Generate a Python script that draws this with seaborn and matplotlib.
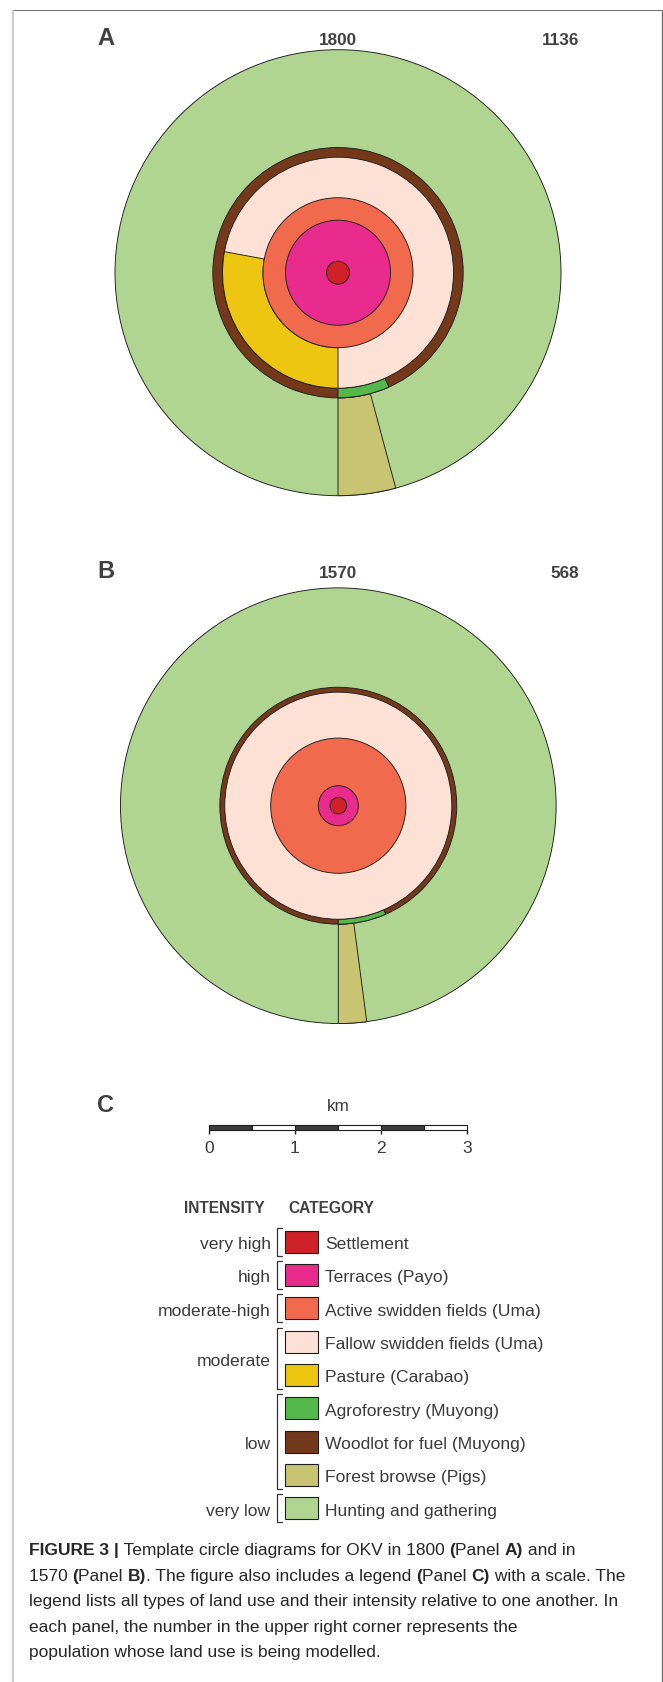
import numpy as np
import matplotlib
matplotlib.use("Agg")
import matplotlib.pyplot as plt
from matplotlib.patches import Wedge
from matplotlib.font_manager import FontProperties
import seaborn as sns

# ---------------- data ----------------
categories = ["Settlement", "Terraces (Payo)", "Active swidden fields (Uma)",
              "Fallow swidden fields (Uma)", "Pasture (Carabao)", "Agroforestry (Muyong)",
              "Woodlot for fuel (Muyong)", "Forest browse (Pigs)", "Hunting and gathering"]
colors = ["#D12128", "#EA2B8E", "#F26A4D", "#FDE1D5", "#ECC610",
          "#55B84A", "#74391B", "#C9C472", "#AFD590"]
intensity_names = ["very high", "high", "moderate-high", "moderate", "low", "very low"]
intensity_rows = [[0], [1], [2], [3, 4], [5, 6, 7], [8]]

panel_labels = ["A", "B"]
years = ["1800", "1570"]
population = ["1136", "568"]
# outer radius of each zone, km
r_settlement = [0.133, 0.096]
r_terraces = [0.609, 0.232]
r_active = [0.870, 0.784]
r_fallow = [1.340, 1.317]
r_woodlot = [1.452, 1.374]
r_hunting = [2.587, 2.527]
# angular share (degrees) of sector land uses, measured from the bottom
pasture_deg = [100.5, 0.0]
agro_deg = [24.0, 23.6]
browse_deg = [15.0, 7.5]

scale_ticks = [0, 1, 2, 3]
scale_seg_start = [0.0, 0.5, 1.0, 1.5, 2.0, 2.5]
scale_seg_len = [0.5] * 6
scale_seg_fill = ["#3d3d3d", "#ffffff", "#3d3d3d", "#ffffff", "#3d3d3d", "#ffffff"]
swatch_len = [1] * len(categories)

caption_lines = [
    [("FIGURE 3 |", True), (" Template circle diagrams for OKV in 1800 ", False), ("(", True),
     ("Panel ", False), ("A)", True), (" and in", False)],
    [("1570 ", False), ("(", True), ("Panel ", False), ("B)", True),
     (". The figure also includes a legend ", False), ("(", True), ("Panel ", False),
     ("C)", True), (" with a scale. The", False)],
    [("legend lists all types of land use and their intensity relative to one another. In", False)],
    [("each panel, the number in the upper right corner represents the", False)],
    [("population whose land use is being modelled.", False)],
]

# ---------------- layout ----------------
W, H = 663, 1683
PX_PER_KM = 86.2
sns.set_theme(style="white")
FAM = ["Liberation Sans", "DejaVu Sans"]
plt.rcParams["font.family"] = FAM

fig = plt.figure(figsize=(W / 100, H / 100), dpi=100)
fig.patch.set_facecolor("white")


def px_axes(x0, y0, x1, y1, z=1):
    return fig.add_axes([x0 / W, 1 - y1 / H, (x1 - x0) / W, (y1 - y0) / H], zorder=z)


bg = px_axes(0, 0, W, H, z=0)
bg.set_xlim(0, W)
bg.set_ylim(H, 0)
bg.axis("off")

# frame
bg.plot([13, 662], [11, 11], color="#6e6e6e", lw=0.75, solid_capstyle="butt")
bg.plot([13, 13], [11, H], color="#bdbdbd", lw=1.1, solid_capstyle="butt")
bg.plot([662, 662], [11, H], color="#707070", lw=1.0, solid_capstyle="butt")

TXT = "#404040"
EDGE = "#1c1c1c"
LW = 0.65

panel_centers = [(338.0, 273.7), (338.3, 806.7)]
label_base = [45.0, 578.3]

for i in range(2):
    cx, cy = panel_centers[i]
    hx, hy = 315, 245
    ax = px_axes(cx - hx, cy - hy, cx + hx, cy + hy, z=2)
    ax.set_xlim(-hx / PX_PER_KM, hx / PX_PER_KM)
    ax.set_ylim(-hy / PX_PER_KM, hy / PX_PER_KM)
    ax.axis("off")
    ax.patch.set_alpha(0)

    def wedge(r, t1, t2, w, c, z):
        ax.add_patch(Wedge((0, 0), r, t1, t2, width=w, facecolor=c,
                           edgecolor=EDGE, linewidth=LW, zorder=z))

    # hunting & gathering
    wedge(r_hunting[i], 0, 360, None, colors[8], 1)
    # forest browse
    wedge(r_hunting[i], 270, 270 + browse_deg[i], r_hunting[i] - r_woodlot[i], colors[7], 2)
    # woodlot ring
    wedge(r_woodlot[i], 0, 360, None, colors[6], 3)
    # agroforestry
    wedge(r_woodlot[i], 270, 270 + agro_deg[i], r_woodlot[i] - r_fallow[i], colors[5], 4)
    # fallow
    wedge(r_fallow[i], 0, 360, None, colors[3], 5)
    # pasture
    if pasture_deg[i] > 0:
        wedge(r_fallow[i], 270 - pasture_deg[i], 270, r_fallow[i] - r_active[i], colors[4], 6)
    wedge(r_active[i], 0, 360, None, colors[2], 7)
    wedge(r_terraces[i], 0, 360, None, colors[1], 8)
    wedge(r_settlement[i], 0, 360, None, colors[0], 9)

    bg.text(106, label_base[i], panel_labels[i], fontsize=17, fontweight="bold",
            color=TXT, ha="center", va="baseline")
    bg.text(cx, label_base[i], years[i], fontsize=12.3, fontweight="bold",
            color=TXT, ha="center", va="baseline")
    bg.text(579, label_base[i], population[i], fontsize=12.3, fontweight="bold",
            color=TXT, ha="right", va="baseline")

# ---------------- panel C: scale bar ----------------
bg.text(106, 1111.7, "C", fontsize=17, fontweight="bold", color=TXT, ha="center", va="baseline")
bg.text(338.3, 1110.7, "km", fontsize=12.3, color="#3a3a3a", ha="center", va="baseline")

sx0, sx1 = 208.7, 208.7 + 3 * PX_PER_KM
sax = px_axes(sx0, 1125.7, sx1, 1131.2, z=2)
bars = sax.bar(scale_seg_start, [1] * len(scale_seg_start), width=scale_seg_len, align="edge",
               color=scale_seg_fill, edgecolor=EDGE, linewidth=0.8)
for b in bars:
    b.set_clip_on(False)
sax.set_xlim(0, 3)
sax.set_ylim(0, 1)
for s in sax.spines.values():
    s.set_visible(False)
sax.patch.set_alpha(0)
sax.set_yticks([])
sax.set_xticks(scale_ticks)
sax.set_xticklabels([str(t) for t in scale_ticks])
sax.tick_params(axis="x", direction="out", length=2.6, width=1.0, color=EDGE,
                pad=4.3, labelsize=12.5, labelcolor="#3a3a3a", bottom=True)

# ---------------- legend ----------------
row0, row_h = 1242.7, 33.33
lx0, lx1 = 285.4, 318.4
n = len(categories)
lax = px_axes(lx0, row0 - 0.5 * row_h, lx1, row0 + (n - 0.5) * row_h, z=2)
sns.barplot(x=swatch_len, y=categories, hue=categories, palette=colors, saturation=1,
            orient="h", width=22 / row_h, edgecolor=EDGE, linewidth=0.8,
            errorbar=None, legend=False, ax=lax)
for p in lax.patches:
    p.set_clip_on(False)
lax.set_xlim(0, 1)
lax.set_ylim(n - 0.5, -0.5)
lax.axis("off")
lax.patch.set_alpha(0)

ux = 1.0 / (lx1 - lx0)  # legend-axes units per pixel
base_off = 6.4 / row_h
for i, c in enumerate(categories):
    lax.text(1 + (324.7 - lx1) * ux, i + base_off, c, fontsize=12.6, color="#3a3a3a",
             ha="left", va="baseline", clip_on=False)

bx, btick = (277.4 - lx0) * ux, (282.0 - lx0) * ux
for name, rows in zip(intensity_names, intensity_rows):
    top, bot = min(rows) - 0.42, max(rows) + 0.42
    lax.plot([btick, bx, bx, btick], [top, top, bot, bot], color="#333333", lw=0.9,
             clip_on=False, solid_joinstyle="miter")
    lax.text((270.6 - lx0) * ux, np.mean(rows) + base_off, name, fontsize=12.6,
             color="#3a3a3a", ha="right", va="baseline", clip_on=False)

bg.text(264.3, 1212.7, "INTENSITY", fontsize=11.2, fontweight="bold", color=TXT,
        ha="right", va="baseline")
bg.text(288.4, 1212.7, "CATEGORY", fontsize=11.2, fontweight="bold", color=TXT,
        ha="left", va="baseline")

# ---------------- caption ----------------
renderer = fig.canvas.get_renderer()
CAP_SIZE = 12.5
prop_n = FontProperties(family=FAM, size=CAP_SIZE)
prop_b = FontProperties(family=FAM, size=CAP_SIZE, weight="bold")


def text_w(s, prop):
    w1 = renderer.get_text_width_height_descent("|" + s + "|", prop, ismath=False)[0]
    w0 = renderer.get_text_width_height_descent("||", prop, ismath=False)[0]
    return w1 - w0


cap_x0, cap_base0, cap_dy = 28.8, 1555.3, 25.45
for li, pieces in enumerate(caption_lines):
    x = cap_x0
    y = cap_base0 + li * cap_dy
    for s, b in pieces:
        p = prop_b if b else prop_n
        bg.text(x, y, s, fontproperties=p, color="#262626", ha="left", va="baseline")
        x += text_w(s, p)

fig.savefig("out.png", dpi=100, facecolor="white")
